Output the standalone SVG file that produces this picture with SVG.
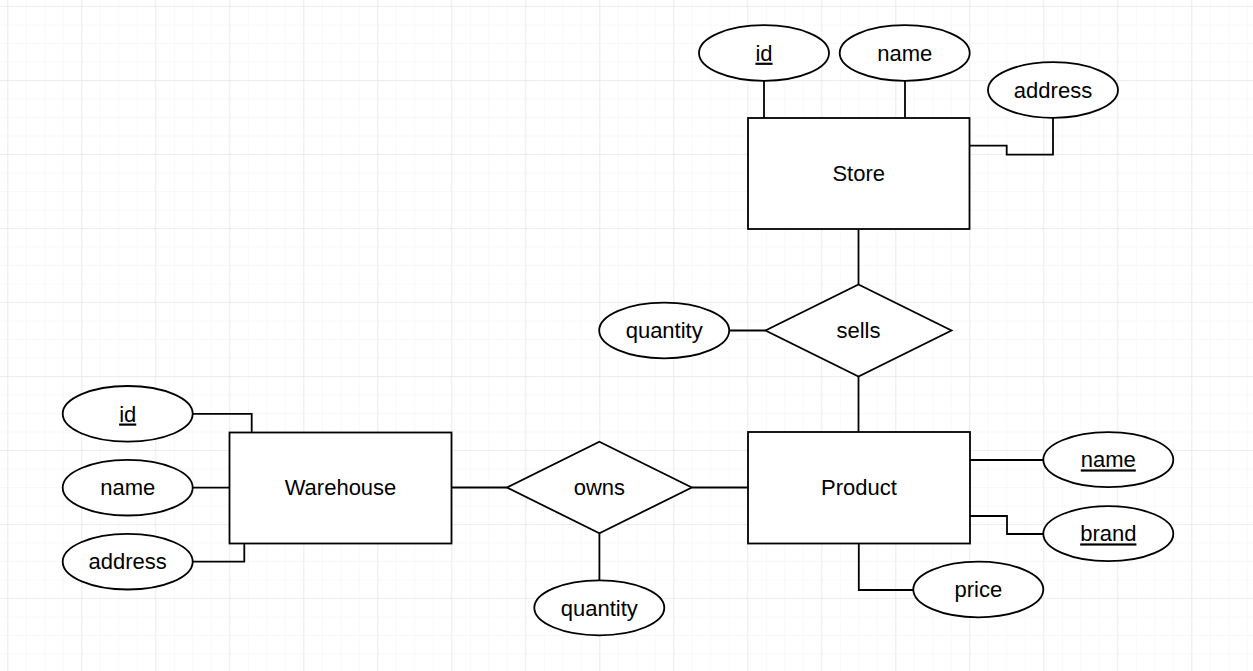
<svg xmlns="http://www.w3.org/2000/svg" width="1253" height="671" viewBox="0 0 1253 671">
<defs>
<pattern id="minor" x="7.3" y="6" width="18.5" height="18.5" patternUnits="userSpaceOnUse">
<path d="M0 0H18.5M0 0V18.5" fill="none" stroke="#f2f2f2" stroke-width="1"/>
</pattern>
<pattern id="major" x="7.3" y="6" width="74" height="74" patternUnits="userSpaceOnUse">
<path d="M0 0H74M0 0V74" fill="none" stroke="#e2e2e2" stroke-width="1"/>
</pattern>
<style>
.s{fill:#fff;stroke:#000;stroke-width:1.8}
.c{fill:none;stroke:#000;stroke-width:1.8}
text{font-family:"Liberation Sans",Arial,Helvetica,sans-serif;font-size:22px;fill:#000;text-anchor:middle}
.u{text-decoration:underline}
</style>
</defs>
<rect width="1253" height="671" fill="#fff"/>
<rect width="1253" height="671" fill="url(#minor)"/>
<rect width="1253" height="671" fill="url(#major)"/>

<g id="connectors">
<path class="c" d="M764 80.7V118"/>
<path class="c" d="M905 80.7V118"/>
<path class="c" d="M969.5 145.7H1006.7V154.7H1053V117.7"/>
<path class="c" d="M858.5 229V284.5"/>
<path class="c" d="M729.3 330.5H765.5"/>
<path class="c" d="M858.5 376.5V432"/>
<path class="c" d="M192.7 413.8H251.7V432.5"/>
<path class="c" d="M192.7 487.7H229.5"/>
<path class="c" d="M192.7 561.7H244.3V543.5"/>
<path class="c" d="M451.7 487.5H507"/>
<path class="c" d="M691.8 487.5H747.6"/>
<path class="c" d="M599.4 533.3V580.5"/>
<path class="c" d="M970 460H1043.6"/>
<path class="c" d="M970 516H1007V534H1043.6"/>
<path class="c" d="M858.8 543.5V590H913"/>
</g>

<g id="store">
<rect class="s" x="748" y="118" width="221.5" height="111"/>
<text x="858.7" y="181.2">Store</text>
</g>
<g id="store-id">
<ellipse class="s" cx="764" cy="53" rx="65" ry="27.8"/>
<text class="u" x="764" y="60.7">id</text>
</g>
<g id="store-name">
<ellipse class="s" cx="904.7" cy="53" rx="65" ry="27.8"/>
<text x="904.7" y="60.7">name</text>
</g>
<g id="store-address">
<ellipse class="s" cx="1053" cy="90" rx="65" ry="27.8"/>
<text x="1053" y="97.7">address</text>
</g>

<g id="sells">
<polygon class="s" points="858.5,284.5 951.5,330.5 858.5,376.5 765.5,330.5"/>
<text x="858.5" y="338.2">sells</text>
</g>
<g id="sells-quantity">
<ellipse class="s" cx="664.2" cy="330.5" rx="65" ry="27.8"/>
<text x="664.2" y="338.2">quantity</text>
</g>

<g id="warehouse">
<rect class="s" x="229.5" y="432.5" width="222" height="111"/>
<text x="340.5" y="495.4">Warehouse</text>
</g>
<g id="warehouse-id">
<ellipse class="s" cx="127.7" cy="413.8" rx="65" ry="27.8"/>
<text class="u" x="127.7" y="421.5">id</text>
</g>
<g id="warehouse-name">
<ellipse class="s" cx="127.7" cy="487.7" rx="65" ry="27.8"/>
<text x="127.7" y="495.4">name</text>
</g>
<g id="warehouse-address">
<ellipse class="s" cx="127.7" cy="561.7" rx="65" ry="27.8"/>
<text x="127.7" y="569.4">address</text>
</g>

<g id="owns">
<polygon class="s" points="599.4,441.7 691.8,487.5 599.4,533.3 507,487.5"/>
<text x="599.4" y="495.2">owns</text>
</g>
<g id="owns-quantity">
<ellipse class="s" cx="599.3" cy="607.8" rx="65" ry="27.5"/>
<text x="599.3" y="615.5">quantity</text>
</g>

<g id="product">
<rect class="s" x="748" y="432" width="222" height="111.5"/>
<text x="859" y="495.4">Product</text>
</g>
<g id="product-name">
<ellipse class="s" cx="1108.3" cy="459.7" rx="65" ry="27.5"/>
<text class="u" x="1108.3" y="467.4">name</text>
</g>
<g id="product-brand">
<ellipse class="s" cx="1108.3" cy="533.7" rx="65" ry="27.5"/>
<text class="u" x="1108.3" y="541.4">brand</text>
</g>
<g id="product-price">
<ellipse class="s" cx="978.3" cy="589.5" rx="65" ry="27.8"/>
<text x="978.3" y="597.2">price</text>
</g>
</svg>
